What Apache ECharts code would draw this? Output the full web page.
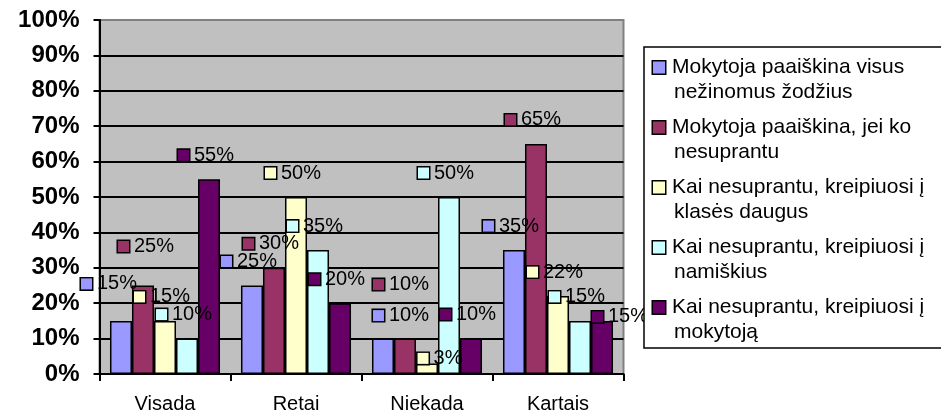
<!DOCTYPE html>
<html>
<head>
<meta charset="utf-8">
<script src="https://cdn.jsdelivr.net/npm/echarts@6/dist/echarts.min.js"></script>
<style>
html,body{margin:0;padding:0;background:#fff;}
#chart{width:941px;height:419px;}
</style>
</head>
<body>
<div id="chart"></div>
<script>
//数据
var categories = ['Visada', 'Retai', 'Niekada', 'Kartais'];
var seriesNames = [
    'Mokytoja paaiškina visus\nnežinomus žodžius',
    'Mokytoja paaiškina, jei ko\nnesuprantu',
    'Kai nesuprantu, kreipiuosi į\nklasės daugus',
    'Kai nesuprantu, kreipiuosi į\nnamiškius',
    'Kai nesuprantu, kreipiuosi į\nmokytoją'
];
var s1 = [15, 25, 10, 35];
var s2 = [25, 30, 10, 65];
var s3 = [15, 50, 3, 22];
var s4 = [10, 35, 50, 15];
var s5 = [55, 20, 10, 15];
var yTicks = [0, 10, 20, 30, 40, 50, 60, 70, 80, 90, 100];

var colors = ['#9999FF', '#993366', '#FFFFCC', '#CCFFFF', '#660066'];

//标签偏移 (手动移动过的标签)
var labelDefault = [-3, -14];
var labelMoved = {
    '0-0': [-12, -27],
    '1-0': [3, -29],
    '0-2': [18, -13],
    '1-2': [-4, -44],
    '2-2': [13, 5],
    '4-3': [18, 6]
};

function buildSeries(idx, values){
    var data = values.map(function(v, c){
        var off = labelMoved[idx + '-' + c] || labelDefault;
        return {value: v, label: {offset: off}};
    });
    return {
        name: seriesNames[idx],
        type: 'bar',
        barGap: '0%',
        barCategoryGap: '16%',
        itemStyle: {color: colors[idx], borderColor: '#000', borderWidth: 1.5},
        label: {
            show: true,
            position: 'top',
            distance: 0,
            formatter: function(p){ return '{k|}{v|' + p.value + '%}'; },
            rich: {
                k: {width: 11, height: 11, backgroundColor: colors[idx], borderColor: '#000', borderWidth: 1.5},
                v: {fontSize: 20, color: '#000', fontFamily: 'Liberation Sans, Arial', padding: [0, 0, 0, 5]}
            }
        },
        data: data
    };
}

//图例文字
var legendRich = {
    t: {fontSize: 21, color: '#000', fontFamily: 'Liberation Sans, Arial', lineHeight: 25, height: 25},
    f: {fontSize: 21, color: '#000', fontFamily: 'Liberation Sans, Arial', lineHeight: 25, height: 25, padding: [0, 0, 0, 7]},
    sp: {width: 21, lineHeight: 25, height: 25}
};
colors.forEach(function(c, i){
    legendRich['s' + i] = {width: 12, height: 12, backgroundColor: c, borderColor: '#000', borderWidth: 1.5};
});

function ChartInit(chartid){
    var myChart = echarts.init(document.getElementById(chartid));
    var splitColors = yTicks.map(function(t){ return t === 100 ? '#808080' : '#000'; });
    var option = {
        animation: false,
        color: colors,
        textStyle: {fontFamily: 'Liberation Sans, Arial'},
        grid: {
            left: 99.5, right: 317.5, top: 20, bottom: 45,
            show: true, backgroundColor: '#C0C0C0', borderColor: '#808080', borderWidth: 2
        },
        legend: {
            orient: 'vertical',
            left: 644, top: 47,
            icon: 'none',
            itemWidth: 0,
            itemGap: 10,
            selectedMode: false,
            backgroundColor: '#fff',
            borderColor: '#000',
            borderWidth: 1.5,
            padding: [8, 40, 3, 4],
            formatter: function(name){
                var i = seriesNames.indexOf(name);
                var parts = name.split('\n');
                return '{s' + i + '|}{f|' + parts[0] + '}\n{sp|}{t|' + parts[1] + '}';
            },
            textStyle: {fontSize: 21, lineHeight: 25, rich: legendRich}
        },
        xAxis: {
            type: 'category',
            data: categories,
            axisLine: {lineStyle: {color: '#000', width: 2}},
            axisTick: {show: true, length: 7, lineStyle: {color: '#000', width: 2}},
            axisLabel: {fontSize: 20, color: '#000', margin: 20}
        },
        yAxis: {
            type: 'value',
            min: 0, max: 100, interval: 10,
            axisLine: {show: true, lineStyle: {color: '#000', width: 2}},
            axisTick: {show: true, length: 6, lineStyle: {color: '#000', width: 2}},
            axisLabel: {fontSize: 24, fontWeight: 'bold', color: '#000', margin: 20, formatter: '{value}%'},
            splitLine: {show: true, lineStyle: {color: splitColors, width: 2}}
        },
        series: [
            buildSeries(0, s1),
            buildSeries(1, s2),
            buildSeries(2, s3),
            buildSeries(3, s4),
            buildSeries(4, s5)
        ]
    };
    myChart.setOption(option);
    return myChart;
}

ChartInit('chart');
</script>
</body>
</html>
